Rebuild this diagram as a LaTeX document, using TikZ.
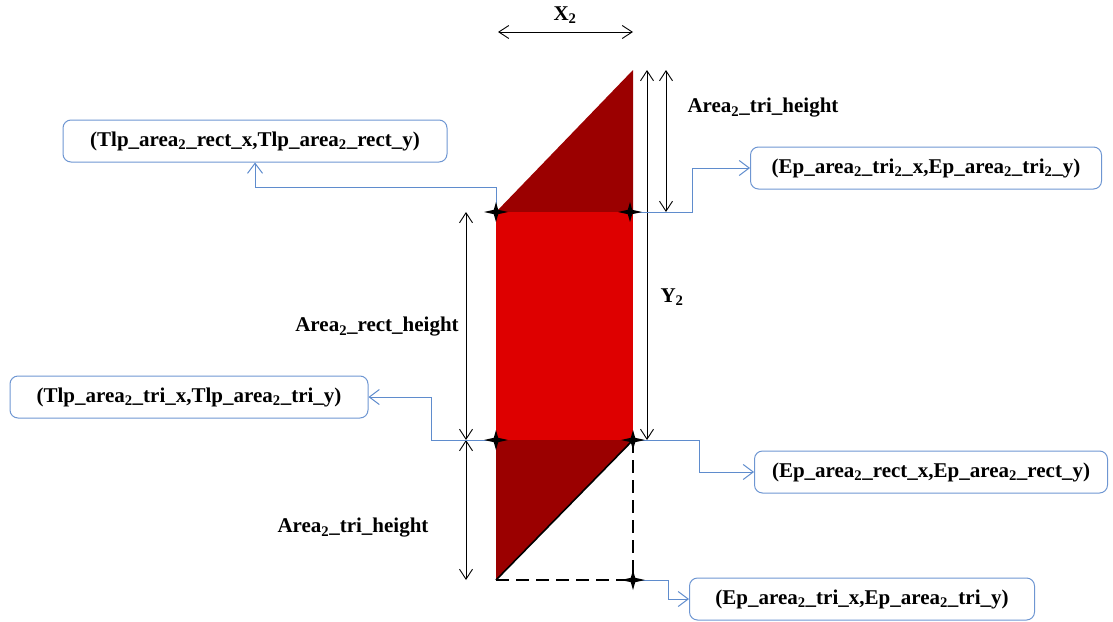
\documentclass[tikz,border=0pt]{standalone}
\usepackage{fontspec}
\setmainfont{Liberation Serif}
\usetikzlibrary{arrows.meta}
\definecolor{darkred}{RGB}{155,0,0}
\definecolor{brightred}{RGB}{222,0,0}
\definecolor{boxblue}{RGB}{110,150,210}
\definecolor{linkblue}{RGB}{95,140,205}
\begin{document}
\begin{tikzpicture}[x=1pt,y=-1pt,
  txt/.style={font=\fontsize{21}{24}\selectfont\bfseries, inner sep=0pt},
  cbox/.style={draw=boxblue, line width=1pt, rounded corners=8pt, minimum height=42pt,
    font=\fontsize{21}{24}\selectfont\bfseries, inner sep=0pt},
  link/.style={draw=linkblue, line width=1pt, -{Straight Barb[length=10pt,width=15pt]}},
  dim/.style={draw=black, line width=0.9pt, {Straight Barb[length=10pt,width=13pt]}-{Straight Barb[length=10pt,width=13pt]}},
  dashline/.style={draw=black, line width=2pt, dash pattern=on 13pt off 7pt},
  fourstar/.pic={\fill[black] (0,-10) -- (2.2,-2.2) -- (12,0) -- (2.2,2.2) -- (0,10) -- (-2.2,2.2) -- (-12,0) -- (-2.2,-2.2) -- cycle;}
]
\useasboundingbox (0,0) rectangle (1113,621);
% corner coordinates
\coordinate (apex) at (633,70);
\coordinate (tl) at (496,212);
\coordinate (tr) at (633,212);
\coordinate (ml) at (496,440);
\coordinate (mr) at (633,440);
\coordinate (bl) at (496,580);
\coordinate (br) at (633,580);
% shape
\fill[darkred] (tl) -- (apex) -- (tr) -- cycle;
\fill[brightred] (tl) rectangle (mr);
\fill[darkred] (ml) -- (mr) -- (bl) -- cycle;
\draw[black, line width=1.6pt] (bl) -- (mr);
\draw[dashline] (mr) -- (br);
\draw[dashline] (bl) -- (br);
% dimension lines
\coordinate (xa) at (498,32);
\coordinate (xb) at (633,32);
\draw[dim] (xa) -- (xb);
\node[txt] (xlab) at (565,15) {X\textsubscript{2}};
\coordinate (ya) at (647,70);
\coordinate (yb) at (647,440);
\draw[dim] (ya) -- (yb);
\node[txt] (ylab) at (672,297) {Y\textsubscript{2}};
\coordinate (tha) at (666,70);
\coordinate (thb) at (666,212);
\draw[dim] (tha) -- (thb);
\node[txt] (thlab) at (763,108) {Area\textsubscript{2}\_tri\_height};
\coordinate (rha) at (466,212);
\coordinate (rhb) at (466,440);
\draw[dim] (rha) -- (rhb);
\node[txt] (rhlab) at (377,327) {Area\textsubscript{2}\_rect\_height};
\coordinate (bha) at (466,440);
\coordinate (bhb) at (466,580);
\draw[dim] (bha) -- (bhb);
\node[txt] (bhlab) at (353,528) {Area\textsubscript{2}\_tri\_height};
% boxes
\node[cbox, minimum width=384pt] (b1) at (255,141) {(Tlp\_area\textsubscript{2}\_rect\_x,Tlp\_area\textsubscript{2}\_rect\_y)};
\node[cbox, minimum width=351pt] (b2) at (926,168) {(Ep\_area\textsubscript{2}\_tri\textsubscript{2}\_x,Ep\_area\textsubscript{2}\_tri\textsubscript{2}\_y)};
\node[cbox, minimum width=358pt] (b3) at (189,397) {(Tlp\_area\textsubscript{2}\_tri\_x,Tlp\_area\textsubscript{2}\_tri\_y)};
\node[cbox, minimum width=353pt] (b4) at (931,472) {(Ep\_area\textsubscript{2}\_rect\_x,Ep\_area\textsubscript{2}\_rect\_y)};
\node[cbox, minimum width=345pt] (b5) at (862,599) {(Ep\_area\textsubscript{2}\_tri\_x,Ep\_area\textsubscript{2}\_tri\_y)};
% connectors
\draw[link] (tl) -- (496,187) -| (b1.south);
\draw[link] (tr) -- (692,212) |- (b2.west);
\draw[link] (ml) -- (431,440) |- (b3.east);
\draw[link] (mr) -- (699,440) |- (b4.west);
\draw[link] (br) -- (668,580) |- (b5.west);
% stars
\pic at (tl) {fourstar};
\pic at (630,212) {fourstar};
\pic at (ml) {fourstar};
\pic at (mr) {fourstar};
\pic at (br) {fourstar};
\end{tikzpicture}
\end{document}
